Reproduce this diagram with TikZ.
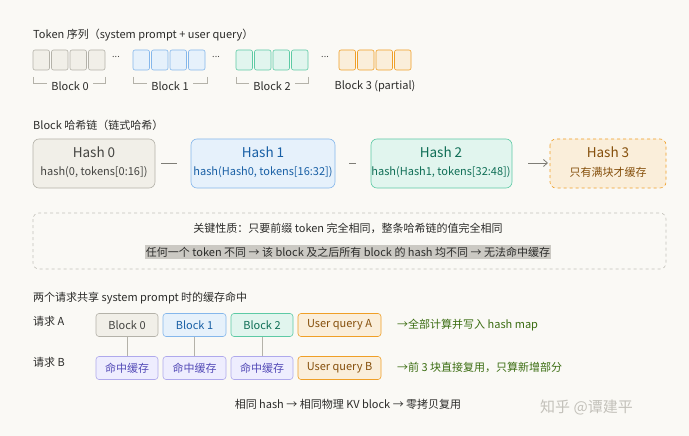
\documentclass[tikz,border=0pt]{standalone}
\usepackage{fontspec}
\setmainfont{Noto Sans CJK SC}
\usetikzlibrary{arrows.meta}
\definecolor{bg}{HTML}{FAF9F5}
\definecolor{gF}{HTML}{F1EFE8}\definecolor{gD}{HTML}{B4B2A9}\definecolor{gT}{HTML}{444441}
\definecolor{bF}{HTML}{E6F1FB}\definecolor{bD}{HTML}{85B7EB}\definecolor{bT}{HTML}{185FA5}
\definecolor{tF}{HTML}{E1F5EE}\definecolor{tD}{HTML}{5DCAA5}\definecolor{tT}{HTML}{0F6E56}
\definecolor{oF}{HTML}{FAEEDA}\definecolor{oD}{HTML}{EF9F27}\definecolor{oT}{HTML}{854F0B}
\definecolor{pF}{HTML}{EEEDFE}\definecolor{pD}{HTML}{AFA9EC}\definecolor{pT}{HTML}{534AB7}
\definecolor{ink}{HTML}{2C2C2A}\definecolor{note}{HTML}{3B6D11}
\tikzset{
 txt/.style={inner sep=0,anchor=west,font=\fontsize{11}{13}\selectfont,text=ink},
 cell/.style={draw=#1D,fill=#1F,rounded corners=2pt,line width=0.6pt},
 hb/.style={draw=#1D,fill=#1F,rounded corners=6pt,line width=0.6pt},
 rb/.style={draw=#1D,fill=#1F,rounded corners=3pt,line width=0.6pt,minimum height=23pt,inner sep=0,text=#1T,font=\fontsize{11}{13}\selectfont},
 brk/.style={draw=gD,line width=0.5pt},
 conn/.style={draw=gD!70!black,line width=0.8pt},
}
\begin{document}
\begin{tikzpicture}[x=1pt,y=-1pt]
\path[fill=bg] (0,0) rectangle (689,436);
\useasboundingbox (0,0) rectangle (689,436);
\node[txt] (t1) at (33,35) {Token 序列（system prompt + user query）};
\foreach \c/\x in {g/33,b/133,t/236,o/339}{
 \foreach \i in {0,1,2,3}{
  \path[cell=\c] ({\x+\i*18.5},50) rectangle ({\x+\i*18.5+16.5},70);
 }}
\foreach \x in {116,216,325}{\node[inner sep=0,font=\fontsize{9}{9}\selectfont,text=gT] at (\x,57) {...};}
\node[txt,anchor=center] (l0) at (70,86) {Block 0};
\node[txt,anchor=center] (l1) at (170,86) {Block 1};
\node[txt,anchor=center] (l2) at (272,86) {Block 2};
\node[txt,anchor=center] (l3) at (375,86) {Block 3 (partial)};
\foreach \a/\b/\n in {33/105/l0,133/207/l1,236/308/l2}{
 \draw[brk] (\a,77) -- (\a,83) -- ([xshift=-4pt]\n.west|-0,83);
 \draw[brk] (\b,77) -- (\b,83) -- ([xshift=4pt]\n.east|-0,83);
}
\node[txt] (t2) at (33,125) {Block 哈希链（链式哈希）};
\path[hb=g] (33,139) rectangle (155,188);
\path[hb=b] (191,139) rectangle (335,188);
\path[hb=t] (371,139) rectangle (512,188);
\path[draw=oD,fill=oF,rounded corners=6pt,dashed,line width=0.6pt] (550,139) rectangle (666,188);
\node[inner sep=0,font=\fontsize{13.5}{15}\selectfont,text=gT] (h0) at (94,152) {Hash 0};
\node[inner sep=0,font=\fontsize{11}{13}\selectfont,text=gT] (s0) at (94,172) {hash(0, tokens[0:16])};
\node[inner sep=0,font=\fontsize{13.5}{15}\selectfont,text=bT] (h1) at (263,152) {Hash 1};
\node[inner sep=0,font=\fontsize{11}{13}\selectfont,text=bT] (s1) at (263,172) {hash(Hash0, tokens[16:32])};
\node[inner sep=0,font=\fontsize{13.5}{15}\selectfont,text=tT] (h2) at (441,152) {Hash 2};
\node[inner sep=0,font=\fontsize{11}{13}\selectfont,text=tT] (s2) at (441,172) {hash(Hash1, tokens[32:48])};
\node[inner sep=0,font=\fontsize{13.5}{15}\selectfont,text=oT] (h3) at (608,152) {Hash 3};
\node[inner sep=0,font=\fontsize{11}{13}\selectfont,text=oT] (s3) at (608,172) {只有满块才缓存};
\coordinate (c0a) at (161,163);\coordinate (c0b) at (177,163);
\coordinate (c1a) at (349,163);\coordinate (c1b) at (356,163);
\coordinate (c2a) at (528,163);\coordinate (c2b) at (548,163);
\draw[conn] (c0a) -- (c0b);
\draw[conn] (c1a) -- (c1b);
\draw[conn,-{Straight Barb[length=4pt,width=7pt]}] (c2a) -- (c2b);
\path[draw=gD!80,dashed,rounded corners=6pt,line width=0.6pt] (33,213) rectangle (666,269);
\node[txt,anchor=center] (p1) at (348,228) {关键性质：只要前缀 token 完全相同，整条哈希链的值完全相同};
\node[txt,anchor=center,fill=gD!70,inner xsep=1pt,inner ysep=2pt] (p2) at (348,252) {任何一个 token 不同 → 该 block 及之后所有 block 的 hash 均不同 → 无法命中缓存};
\node[txt] (t3) at (33,298) {两个请求共享 system prompt 时的缓存命中};
\node[txt] (ra) at (33,321) {请求 A};
\node[txt] (rb) at (33,362) {请求 B};
\node[rb=g,minimum width=62pt] (a0) at (127,325) {Block 0};
\node[rb=b,minimum width=63pt] (a1) at (194.5,325) {Block 1};
\node[rb=t,minimum width=62pt] (a2) at (262,325) {Block 2};
\node[rb=o,minimum width=83pt] (a3) at (339.5,325) {User query A};
\node[rb=p,minimum width=62pt] (b0) at (127,368) {命中缓存};
\node[rb=p,minimum width=63pt] (b1) at (194.5,368) {命中缓存};
\node[rb=p,minimum width=62pt] (b2) at (262,368) {命中缓存};
\node[rb=o,minimum width=83pt] (b3) at (339.5,368) {User query B};
\foreach \i in {0,1,2}{\draw[draw=gD,line width=0.5pt] (a\i) -- (b\i);}
\node[txt,text=note] (na) at (397,325) {→全部计算并写入 hash map};
\node[txt,text=note] (nb) at (397,367) {→前 3 块直接复用，只算新增部分};
\node[txt,anchor=center] (ft) at (348,404) {相同 hash → 相同物理 KV block → 零拷贝复用};
\node[txt,text=gD!80,font=\fontsize{15}{17}\selectfont] (wm) at (540,407) {知乎 @谭建平};
\end{tikzpicture}
\end{document}
